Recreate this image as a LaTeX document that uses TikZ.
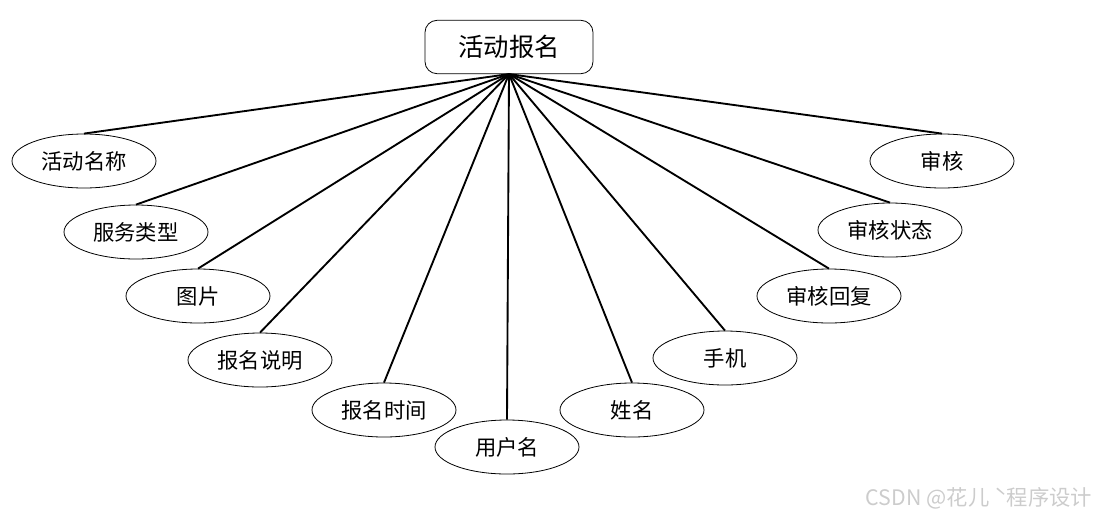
\documentclass[tikz,border=0pt]{standalone}
\usepackage{fontspec}
\newfontfamily\cjk{Noto Sans CJK SC}
\usetikzlibrary{shapes.geometric}
\begin{document}
\begin{tikzpicture}[x=0.75pt,y=-0.75pt,
    entity/.style={draw,line width=0.6pt,rounded corners=9pt,minimum width=126pt,minimum height=40pt,font=\cjk\fontsize{19}{22}\selectfont},
    attr/.style={draw,ellipse,line width=0.6pt,minimum width=108pt,minimum height=40.5pt,inner sep=0pt,font=\cjk\fontsize{16}{19}\selectfont},
    link/.style={line width=1.4pt}]
  \useasboundingbox (0,0) rectangle (1101,519);
  % entity
  \node[entity] (E) at (509,47) {活动报名};
  % attributes and their links
  \foreach \n/\x/\y/\t in {mc/84/161/活动名称, lx/136/232/服务类型, tp/198/296/图片,
      sm/260/360/报名说明, sj/384/410/报名时间, yh/507/447/用户名, xm/632/410/姓名,
      sj2/725/358/手机, hf/829/296/审核回复, zt/890/230/审核状态, sh/942/161/审核}{
    \node[attr] (\n) at (\x,\y) {\t};
    \draw[link] (E.south) -- (\n.north);
  }
  % watermark
  \node[anchor=east,text=gray!40,font=\cjk\fontsize{16}{19}\selectfont] (wm) at (1097,498) {CSDN @花儿 ˋ程序设计};
\end{tikzpicture}
\end{document}
